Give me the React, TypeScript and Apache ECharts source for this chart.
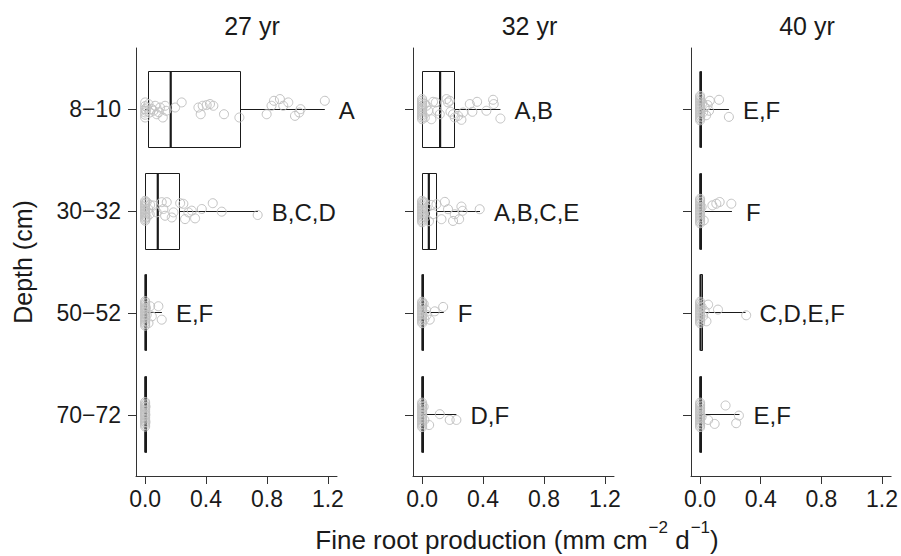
import React, { useEffect, useRef } from "react";
import * as echarts from "echarts";

const depths = ["8−10", "30−32", "50−52", "70−72"];
const ages = ["27 yr", "32 yr", "40 yr"];
const xTicks = [0, 0.4, 0.8, 1.2];

// box statistics per depth: [min, q1, median, q3, max]
const box27 = [
  [0, 0.02, 0.168, 0.623, 1.18],
  [0, 0.005, 0.083, 0.225, 0.74],
  [0, 0, 0.002, 0.005, 0.11],
  [0, 0, 0.001, 0.003, 0.003],
];
const box32 = [
  [0, 0.003, 0.118, 0.212, 0.514],
  [0, 0.004, 0.044, 0.092, 0.38],
  [0, 0, 0.002, 0.005, 0.142],
  [0, 0, 0.001, 0.004, 0.225],
];
const box40 = [
  [0, 0, 0.002, 0.005, 0.19],
  [0, 0, 0.001, 0.004, 0.21],
  [0, 0, 0.003, 0.018, 0.3],
  [0, 0, 0.001, 0.004, 0.26],
];

const letters27 = ["A", "B,C,D", "E,F", ""];
const letters32 = ["A,B", "A,B,C,E", "F", "D,F"];
const letters40 = ["E,F", "F", "C,D,E,F", "E,F"];

// raw observations: [production, vertical jitter]
const pts27_8 = [[0,-0.066],[0.011,-0.016],[0,0.033],[0,0.082],[0.022,-0.05],[0.044,0],[0.066,-0.033],[0.076,0.05],[0.098,-0.016],[0.116,0.082],[0.131,-0.033],[0.138,0.016],[0.197,-0.016],[0.24,-0.066],[0.35,-0.016],[0.365,0.05],[0.378,-0.033],[0.404,-0.04],[0.426,-0.05],[0.448,-0.033],[0.518,0.05],[0.619,0.082],[0.798,0.05],[0.83,-0.033],[0.846,-0.082],[0.885,-0.099],[0.907,-0.033],[0.94,-0.066],[0.984,0.066],[1.012,0.033],[1.021,0],[1.18,-0.082],[0,0],[0.005,0.016],[0.03,0.033],[0.055,0.016],[0.09,0.03],[0,-0.03],[0,0.055]];
const pts27_30 = [[0,-0.1],[0,-0.085],[0,-0.07],[0,-0.055],[0,-0.04],[0,-0.025],[0,-0.01],[0,0.005],[0,0.02],[0,0.035],[0,0.05],[0,0.065],[0,0.08],[0,0.095],[0.01,-0.087],[0.01,0.063],[0.02,-0.02],[0.03,0.03],[0.033,-0.06],[0.055,-0.054],[0.076,0.013],[0.109,-0.087],[0.12,-0.02],[0.131,0.046],[0.142,-0.087],[0.175,0.063],[0.186,0.013],[0.23,-0.077],[0.251,-0.071],[0.262,0.079],[0.284,0.013],[0.306,-0.004],[0.328,0.072],[0.372,-0.02],[0.444,-0.077],[0.503,0.006],[0.739,0.039]];
const pts27_50 = [[0,-0.115],[0,-0.1],[0,-0.085],[0,-0.07],[0,-0.055],[0,-0.04],[0,-0.025],[0,-0.01],[0,0.005],[0,0.02],[0,0.035],[0,0.05],[0,0.065],[0,0.08],[0,0.095],[0,0.11],[0,0.125],[0.005,-0.05],[0.01,0.02],[0.022,0.099],[0.033,-0.066],[0.044,0.033],[0.087,-0.066],[0.109,0.066]];
const pts27_70 = [[0,-0.125],[0,-0.11],[0,-0.095],[0,-0.08],[0,-0.065],[0,-0.05],[0,-0.035],[0,-0.02],[0,-0.005],[0,0.01],[0,0.025],[0,0.04],[0,0.055],[0,0.07],[0,0.085],[0,0.1],[0,0.115],[0.002,-0.08],[0.002,0.07],[0.001,0]];

const pts32_8 = [[0,-0.099],[0,-0.082],[0,-0.066],[0,-0.05],[0,-0.033],[0,-0.016],[0,0],[0,0.016],[0,0.033],[0,0.05],[0,0.066],[0,0.082],[0,0.099],[0.018,-0.05],[0.018,0.082],[0.029,-0.033],[0.04,0.016],[0.061,0.099],[0.072,-0.072],[0.09,-0.066],[0.099,0.016],[0.116,0.05],[0.16,-0.099],[0.17,-0.066],[0.181,-0.082],[0.186,0.026],[0.203,0.05],[0.214,0.082],[0.236,0.066],[0.258,0.105],[0.269,0.033],[0.313,-0.05],[0.33,0.026],[0.361,-0.072],[0.422,0.016],[0.466,-0.092],[0.47,-0.05],[0.514,0.092]];
const pts32_30 = [[0,-0.1],[0,-0.085],[0,-0.07],[0,-0.055],[0,-0.04],[0,-0.025],[0,-0.01],[0,0.005],[0,0.02],[0,0.035],[0,0.05],[0,0.065],[0,0.08],[0,0.095],[0,0.11],[0.015,-0.085],[0.02,0.06],[0.03,-0.03],[0.045,0.1],[0.06,-0.06],[0.072,0.03],[0.094,-0.067],[0.127,0.08],[0.149,-0.09],[0.17,-0.018],[0.203,0.097],[0.214,0.031],[0.243,0.08],[0.258,-0.044],[0.265,-0.002],[0.378,-0.018]];
const pts32_50 = [[0,-0.11],[0,-0.095],[0,-0.08],[0,-0.065],[0,-0.05],[0,-0.035],[0,-0.02],[0,-0.005],[0,0.01],[0,0.025],[0,0.04],[0,0.055],[0,0.07],[0,0.085],[0,0.1],[0.01,-0.09],[0.015,0.06],[0.025,-0.03],[0.03,0.02],[0.05,0.066],[0.083,-0.016],[0.138,-0.059]];
const pts32_70 = [[0,-0.12],[0,-0.105],[0,-0.09],[0,-0.075],[0,-0.06],[0,-0.045],[0,-0.03],[0,-0.015],[0,0],[0,0.015],[0,0.03],[0,0.045],[0,0.06],[0,0.075],[0,0.09],[0,0.105],[0,0.12],[0.01,-0.08],[0.015,0.05],[0.046,0.1],[0.116,-0.007],[0.181,0.05],[0.225,0.05]];

const pts40_8 = [[0,-0.13],[0,-0.115],[0,-0.1],[0,-0.085],[0,-0.07],[0,-0.055],[0,-0.04],[0,-0.025],[0,-0.01],[0,0.005],[0,0.02],[0,0.035],[0,0.05],[0,0.065],[0,0.08],[0,0.095],[0,0.11],[0.015,-0.06],[0.02,0.03],[0.03,-0.02],[0.04,0.06],[0.05,-0.04],[0.059,0.016],[0.064,-0.082],[0.125,-0.092],[0.19,0.076]];
const pts40_30 = [[0,-0.12],[0,-0.105],[0,-0.09],[0,-0.075],[0,-0.06],[0,-0.045],[0,-0.03],[0,-0.015],[0,0],[0,0.015],[0,0.03],[0,0.045],[0,0.06],[0,0.075],[0,0.09],[0,0.105],[0,0.12],[0.01,-0.04],[0.024,0.092],[0.081,-0.056],[0.107,-0.072],[0.129,-0.089],[0.206,-0.072]];
const pts40_50 = [[0,-0.11],[0,-0.095],[0,-0.08],[0,-0.065],[0,-0.05],[0,-0.035],[0,-0.02],[0,-0.005],[0,0.01],[0,0.025],[0,0.04],[0,0.055],[0,0.07],[0,0.085],[0,0.1],[0.01,-0.06],[0.02,0.03],[0.03,-0.02],[0.042,0.082],[0.053,-0.082],[0.118,-0.033],[0.304,0.023]];
const pts40_70 = [[0,-0.12],[0,-0.105],[0,-0.09],[0,-0.075],[0,-0.06],[0,-0.045],[0,-0.03],[0,-0.015],[0,0],[0,0.015],[0,0.03],[0,0.045],[0,0.06],[0,0.075],[0,0.09],[0,0.105],[0,0.12],[0.01,0.02],[0.053,0.05],[0.096,0.089],[0.168,-0.092],[0.238,0.082],[0.256,0.007]];

const panels = [
  { boxes: box27, letters: letters27, pts: [pts27_8, pts27_30, pts27_50, pts27_70] },
  { boxes: box32, letters: letters32, pts: [pts32_8, pts32_30, pts32_50, pts32_70] },
  { boxes: box40, letters: letters40, pts: [pts40_8, pts40_30, pts40_50, pts40_70] },
];

const FONT = '"Liberation Sans", Arial, sans-serif';
const INK = "#1a1a1a";
const AXIS = "#333333";
const GRID_LEFTS = [136, 413, 691];
const GRID_TOP = 48;
const GRID_H = 428;
const GRID_W = 201;
const TITLE_X = [252, 529.5, 807];

const snap = (v: number) => Math.round(v - 0.5) + 0.5;

export default function App() {
  const ref = useRef<HTMLDivElement>(null);
  useEffect(() => {
    if (!ref.current) return;
    const chart = echarts.init(ref.current, null, { renderer: "svg" });

    const grid = GRID_LEFTS.map((l) => ({ left: l, top: GRID_TOP, width: GRID_W, height: GRID_H }));
    const xAxis = panels.map((_, i) => ({
      type: "value",
      gridIndex: i,
      min: -0.06,
      max: 1.26,
      splitLine: { show: false },
      axisLine: { show: true, onZero: false, lineStyle: { color: AXIS, width: 1 } },
      axisTick: { show: true, length: 8, customValues: xTicks, lineStyle: { color: AXIS } },
      axisLabel: {
        show: true,
        customValues: xTicks,
        formatter: (v: number) => v.toFixed(1),
        fontFamily: FONT,
        fontSize: 23,
        color: INK,
        margin: 11,
      },
    }));
    const yAxis = panels.map((_, i) => ({
      type: "value",
      gridIndex: i,
      min: 0.4,
      max: 4.6,
      inverse: true,
      splitLine: { show: false },
      axisLine: { show: true, onZero: false, lineStyle: { color: AXIS, width: 1 } },
      axisTick: { show: true, length: 8, customValues: [1, 2, 3, 4], lineStyle: { color: AXIS } },
      axisLabel: {
        show: i === 0,
        customValues: [1, 2, 3, 4],
        formatter: (v: number) => depths[Math.round(v) - 1] || "",
        fontFamily: FONT,
        fontSize: 23,
        color: INK,
        margin: 15,
      },
    }));

    const series: any[] = [];
    panels.forEach((p, i) => {
      const boxData = p.boxes.map((b, k) => [k + 1, ...b]);
      series.push({
        type: "custom",
        xAxisIndex: i,
        yAxisIndex: i,
        encode: { x: [1, 2, 3, 4, 5], y: 0 },
        data: boxData,
        z: 2,
        renderItem: (params: any, api: any) => {
          const cat = api.value(0);
          const pMin = api.coord([api.value(1), cat]);
          const pQ1 = api.coord([api.value(2), cat]);
          const pMd = api.coord([api.value(3), cat]);
          const pQ3 = api.coord([api.value(4), cat]);
          const pMax = api.coord([api.value(5), cat]);
          const h = Math.round(api.size([0, 0.75])[1]);
          const c = snap(pQ1[1]);
          const top = snap(pQ1[1] - h / 2);
          const x1 = snap(pQ1[0]);
          const x3 = Math.max(snap(pQ3[0]), x1 + 1);
          const text = p.letters[params.dataIndex];
          const children: any[] = [
            { type: "line", shape: { x1: pMin[0], y1: c, x2: x1, y2: c }, style: { stroke: INK, lineWidth: 1 } },
            { type: "line", shape: { x1: x3, y1: c, x2: pMax[0], y2: c }, style: { stroke: INK, lineWidth: 1 } },
            {
              type: "rect",
              shape: { x: x1, y: top, width: x3 - x1, height: h },
              style: { fill: "none", stroke: INK, lineWidth: 1 },
            },
            { type: "line", shape: { x1: pMd[0], y1: top, x2: pMd[0], y2: top + h }, style: { stroke: INK, lineWidth: 2.2 } },
          ];
          if (text) {
            children.push({
              type: "text",
              x: pMax[0] + 14,
              y: c + 1,
              style: { text, font: `24px ${FONT}`, fill: INK, align: "left", verticalAlign: "middle" },
            });
          }
          return { type: "group", children };
        },
      });
      const scatterData: number[][] = [];
      p.pts.forEach((arr, k) => arr.forEach((pt) => scatterData.push([pt[0], k + 1 + pt[1]])));
      series.push({
        type: "scatter",
        xAxisIndex: i,
        yAxisIndex: i,
        data: scatterData,
        symbol: "circle",
        symbolSize: 9,
        z: 3,
        itemStyle: { color: "rgba(0,0,0,0)", borderColor: "#c2c2c2", borderWidth: 1, opacity: 1 },
        emphasis: { disabled: true },
      });
    });

    const graphic: any[] = [
      ...ages.map((a, i) => ({
        type: "text",
        x: TITLE_X[i],
        y: 26,
        style: { text: a, font: `25px ${FONT}`, fill: INK, align: "center", verticalAlign: "middle" },
      })),
      {
        type: "text",
        x: 22.5,
        y: 262,
        rotation: Math.PI / 2,
        style: { text: "Depth (cm)", font: `25px ${FONT}`, fill: INK, align: "center", verticalAlign: "middle" },
      },
      {
        type: "text",
        x: 517,
        y: 536,
        style: {
          text: "{a|Fine root production (mm cm}{s|−2}{a| d}{s|−1}{a|)}",
          align: "center",
          verticalAlign: "middle",
          fill: INK,
          rich: {
            a: { fontFamily: FONT, fontSize: 26, lineHeight: 34, fill: INK, color: INK, verticalAlign: "bottom" },
            s: { fontFamily: FONT, fontSize: 17, lineHeight: 34, fill: INK, color: INK, verticalAlign: "top", padding: [0, 0, 0, 1] },
          },
        },
      },
    ];

    chart.setOption({
      animation: false,
      grid,
      xAxis,
      yAxis,
      series,
      graphic,
    });
    return () => chart.dispose();
  }, []);
  return (
    <div
      ref={ref}
      style={{ position: "absolute", left: 0, top: 0, width: 901, height: 556, background: "#fff" }}
    />
  );
}
